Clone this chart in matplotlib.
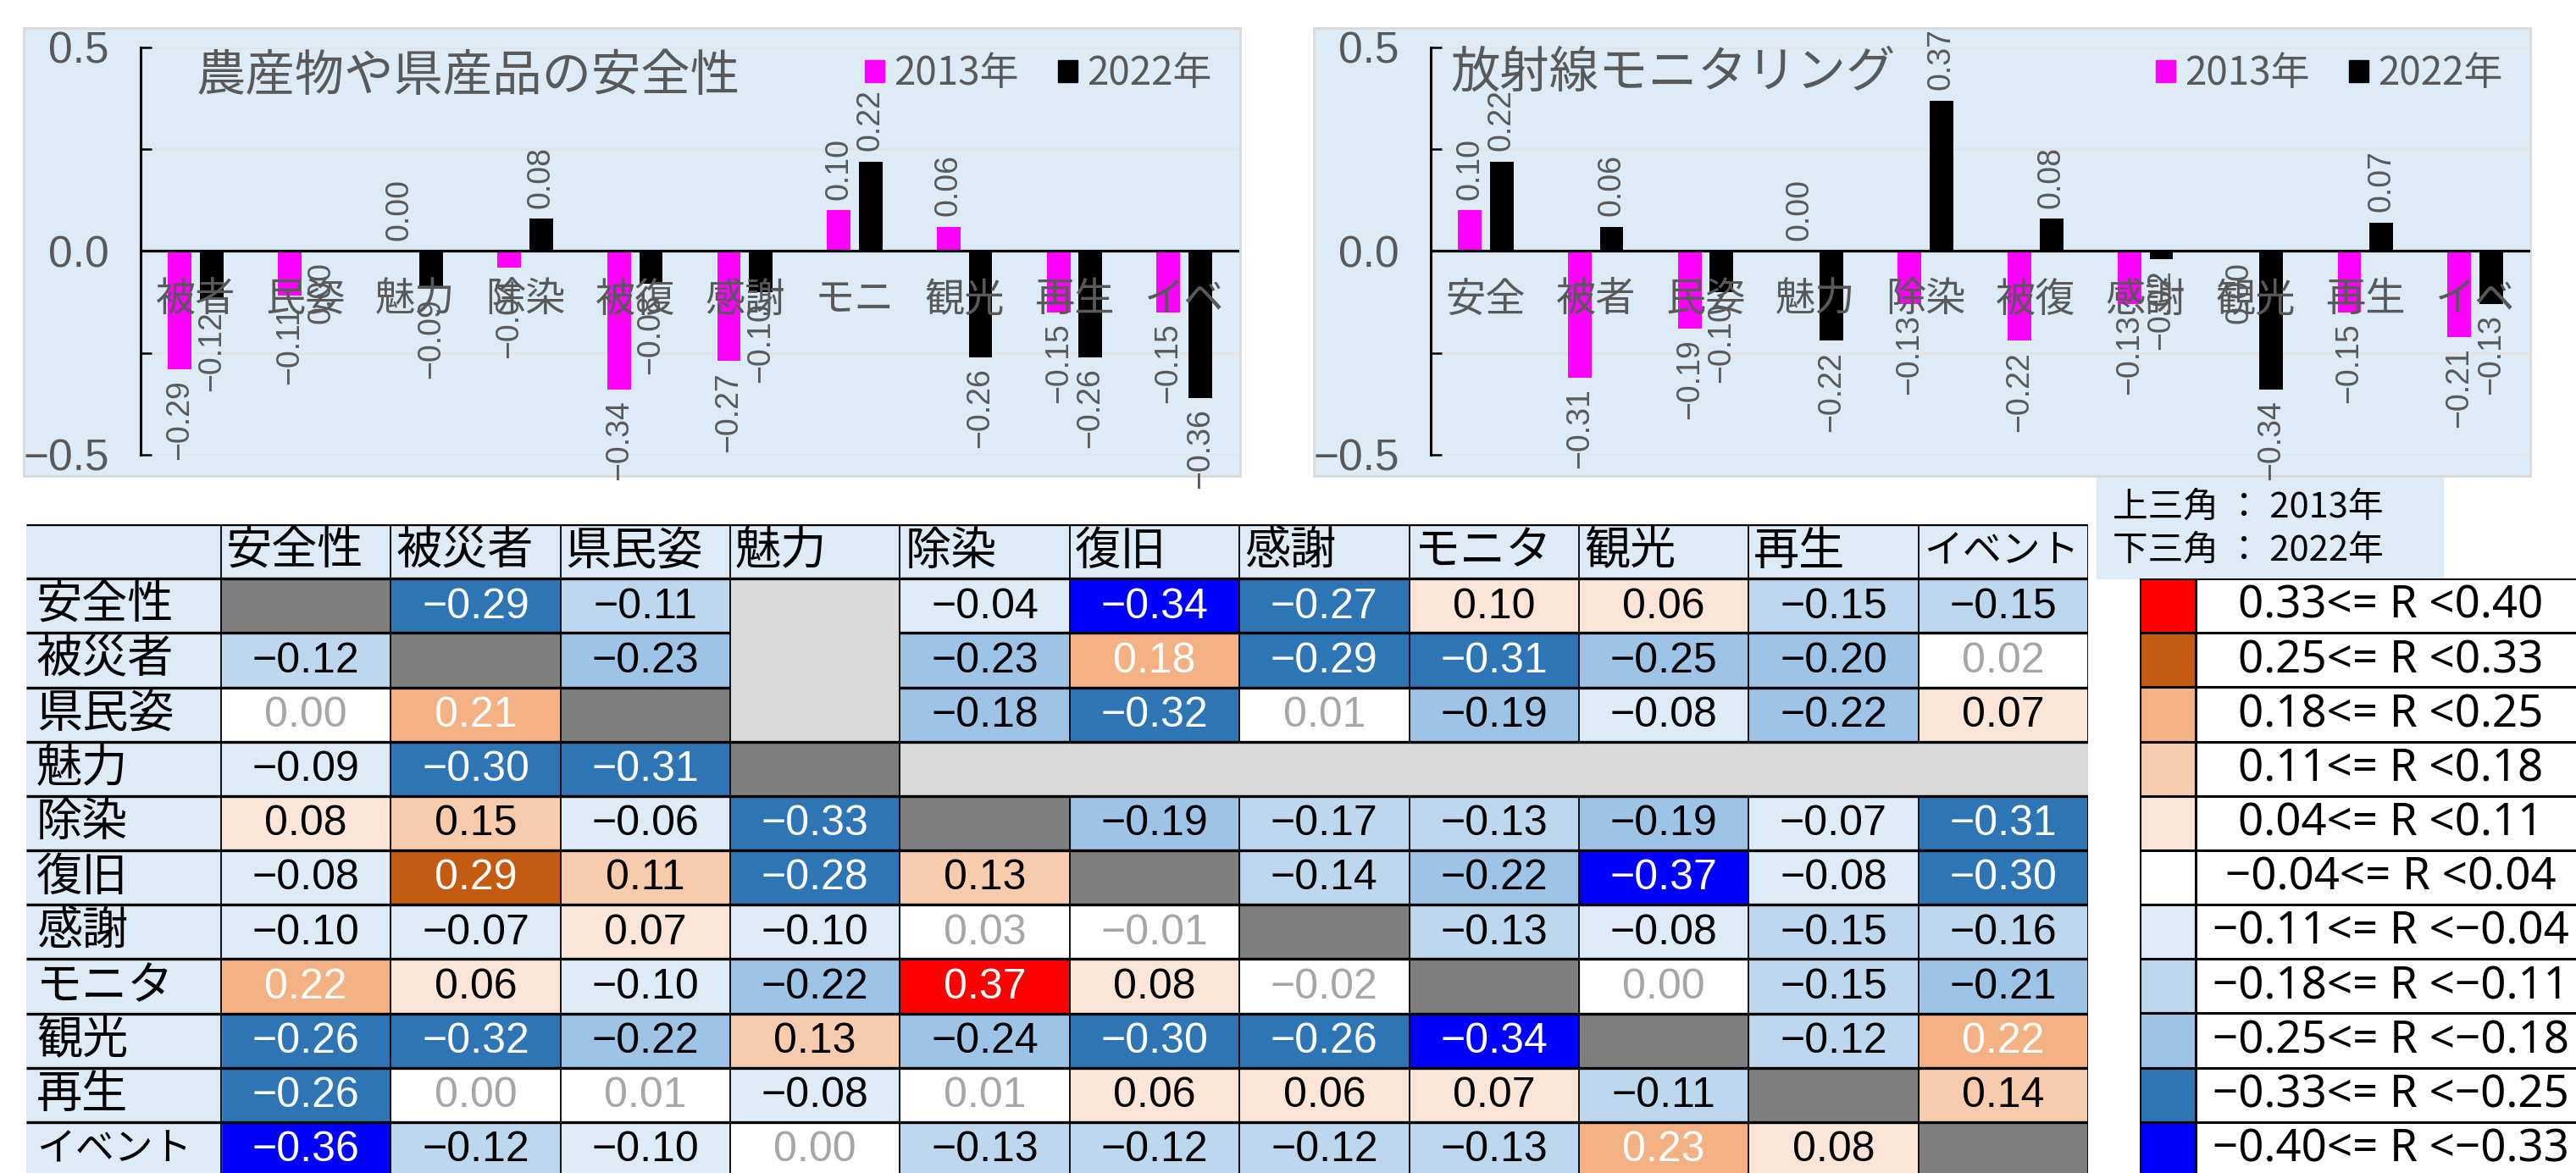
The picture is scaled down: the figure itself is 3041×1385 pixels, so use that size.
import numpy as np
import matplotlib
matplotlib.use('Agg')
import matplotlib.pyplot as plt
from matplotlib.patches import Rectangle, Patch
from matplotlib.colors import ListedColormap, BoundaryNorm
from matplotlib.ticker import FuncFormatter
from matplotlib.collections import LineCollection

W, H, DPI = 3041, 1385, 100
plt.rcParams['font.family'] = ['Noto Sans CJK JP', 'DejaVu Sans']
NUM_FONT = ['Liberation Sans', 'DejaVu Sans']
LEG_FONT = ['Noto Sans', 'DejaVu Sans']
GRAY_TXT = '#595959'
PANEL_BG = '#DDEBF7'

# ---------------- data ----------------
years = ['2013年', '2022年']
year_colors = ['#FF00FF', '#000000']

farm_title = '農産物や県産品の安全性'
farm_cats = ['被者', '民姿', '魅力', '除染', '被復', '感謝', 'モニ', '観光', '再生', 'イベ']
farm_2013 = [-0.29, -0.11, 0.00, -0.04, -0.34, -0.27, 0.10, 0.06, -0.15, -0.15]
farm_2022 = [-0.12, -0.00, -0.09, 0.08, -0.08, -0.10, 0.22, -0.26, -0.26, -0.36]

mon_title = '放射線モニタリング'
mon_cats = ['安全', '被者', '民姿', '魅力', '除染', '被復', '感謝', '観光', '再生', 'イベ']
mon_2013 = [0.10, -0.31, -0.19, 0.00, -0.13, -0.22, -0.13, -0.00, -0.15, -0.21]
mon_2022 = [0.22, 0.06, -0.10, -0.22, 0.37, 0.08, -0.02, -0.34, 0.07, -0.13]

yticks = [-0.5, -0.25, 0.0, 0.25, 0.5]

items = ['安全性', '被災者', '県民姿', '魅力', '除染', '復旧', '感謝', 'モニタ', '観光', '再生', 'イベント']
# upper triangle = 2013 (row i, columns i+1 ..)
upper_2013 = [
    [-0.29, -0.111, None, -0.041, -0.34, -0.27, 0.10, 0.06, -0.15, -0.15],
    [-0.23, None, -0.23, 0.18, -0.29, -0.31, -0.25, -0.20, 0.02],
    [None, -0.181, -0.32, 0.01, -0.19, -0.08, -0.22, 0.07],
    [None, None, None, None, None, None, None],
    [-0.19, -0.17, -0.13, -0.19, -0.07, -0.31],
    [-0.14, -0.22, -0.37, -0.08, -0.30],
    [-0.13, -0.08, -0.15, -0.16],
    [0.00, -0.15, -0.21],
    [-0.12, 0.22],
    [0.14],
]
# lower triangle = 2022 (row i+1, columns 0 .. i)
lower_2022 = [
    [-0.12],
    [0.00, 0.21],
    [-0.09, -0.30, -0.31],
    [0.08, 0.15, -0.06, -0.33],
    [-0.08, 0.29, 0.11, -0.28, 0.13],
    [-0.10, -0.07, 0.07, -0.10, 0.03, -0.01],
    [0.22, 0.06, -0.10, -0.22, 0.37, 0.08, -0.02],
    [-0.26, -0.32, -0.22, 0.13, -0.24, -0.30, -0.26, -0.34],
    [-0.26, 0.00, 0.01, -0.08, 0.01, 0.06, 0.06, 0.07, -0.111],
    [-0.36, -0.12, -0.10, 0.00, -0.13, -0.12, -0.12, -0.13, 0.23, 0.08],
]
bin_edges = [-0.40, -0.33, -0.25, -0.18, -0.11, -0.04, 0.04, 0.11, 0.18, 0.25, 0.33, 0.40]
bin_colors = ['#0000FF', '#2E75B6', '#9DC3E6', '#BDD7EE', '#DDEBF7', '#FFFFFF',
              '#FBE5D6', '#F8CBAD', '#F4B183', '#C55A11', '#FF0000']
bin_text_colors = ['white', 'white', 'black', 'black', 'black', '#A6A6A6',
                   'black', 'black', 'white', 'white', 'white']
note_lines = ['上三角 ： 2013年', '下三角 ： 2022年']


def px_rect(x0, y0, x1, y1):
    return [x0 / W, 1 - y1 / H, (x1 - x0) / W, (y1 - y0) / H]


def fmt(v):
    s = f'{abs(v):.2f}'
    return ('−' + s) if v < 0 and s != '0.00' else s


fig = plt.figure(figsize=(W / DPI, H / DPI), dpi=DPI)


def bar_panel(panel_px, axes_px, title, title_xy, cats, v13, v22):
    bg = fig.add_axes(px_rect(*panel_px))
    bg.set_facecolor(PANEL_BG)
    bg.set_xticks([]); bg.set_yticks([])
    for s in bg.spines.values():
        s.set_color('#D9D9D9'); s.set_linewidth(2)

    ax = fig.add_axes(px_rect(*axes_px))
    ax.set_facecolor('none')
    x = np.arange(len(cats))
    w, off = 0.215, 0.145
    for vals, dx, col in ((v13, -off, year_colors[0]), (v22, off, year_colors[1])):
        ax.bar(x + dx, vals, w, color=col, zorder=2)
        for xi, v in zip(x + dx, vals):
            neg = np.signbit(v)
            ax.annotate(fmt(v), (xi, v), xytext=(0, -9 if neg else 9),
                        textcoords='offset points', rotation=90, ha='center',
                        va='top' if neg else 'bottom', fontsize=27,
                        color=GRAY_TXT, family=NUM_FONT, zorder=5)
    for xi, c in zip(x, cats):
        ax.text(xi, -0.12, c, ha='center', va='center', fontsize=34,
                color=GRAY_TXT, zorder=6)
    ax.axhline(0, color='black', lw=2.3, zorder=3)
    ax.set_xlim(-0.5, len(cats) - 0.5)
    ax.set_ylim(-0.5, 0.5)
    ax.set_xticks([])
    ax.set_yticks(yticks)
    ax.yaxis.set_major_formatter(FuncFormatter(
        lambda v, p: f'{v:.1f}'.replace('-', '−') if abs(v * 2 - round(v * 2)) < 1e-9 else ''))
    ax.tick_params(axis='y', direction='in', length=9, width=1.8, pad=27,
                   labelsize=37, labelcolor=GRAY_TXT, labelfontfamily='Liberation Sans')
    for side in ('top', 'right', 'bottom'):
        ax.spines[side].set_visible(False)
    ax.spines['left'].set_linewidth(2.2)
    ax.grid(axis='y', color='#E3E3E3', lw=1.8)
    ax.set_axisbelow(True)
    handles = [Patch(color=c) for c in year_colors]
    ax.legend(handles, years, ncol=2, loc='center right', bbox_to_anchor=(0.975, 0.9356),
              frameon=False, fontsize=33, handlelength=0.5, handleheight=0.5,
              handletextpad=0.25, columnspacing=1.0, borderpad=0, borderaxespad=0,
              labelcolor=GRAY_TXT)
    fig.text(title_xy[0] / W, 1 - title_xy[1] / H, title, ha='left', va='center',
             fontsize=42, color=GRAY_TXT)


bar_panel((28, 33, 1464, 562), (166, 56, 1463, 537), farm_title, (232, 91),
          farm_cats, farm_2013, farm_2022)
bar_panel((1551, 33, 2987, 562), (1689, 56, 2987, 537), mon_title, (1713, 86),
          mon_cats, mon_2013, mon_2022)

# ---------------- correlation table ----------------
n = len(items)
M = np.full((n, n), np.nan)
missing = np.zeros((n, n), bool)
for i, row in enumerate(upper_2013):
    for k, v in enumerate(row):
        if v is None:
            missing[i, i + 1 + k] = True
        else:
            M[i, i + 1 + k] = v
for i, row in enumerate(lower_2022):
    for k, v in enumerate(row):
        M[i + 1, k] = v

lab_w = 230 / 200.4
axT = fig.add_axes(px_rect(31, 619, 2465, 1389))
axT.set_xlim(-lab_w, n)
axT.set_ylim(n, -1)
axT.axis('off')

cmap = ListedColormap(bin_colors)
norm = BoundaryNorm(bin_edges, cmap.N)
axT.pcolormesh(np.arange(n + 1), np.arange(n + 1), np.ma.masked_invalid(M),
               cmap=cmap, norm=norm, zorder=1)
axT.add_patch(Rectangle((-lab_w, -1), lab_w + n, 1, color=PANEL_BG, zorder=1))
axT.add_patch(Rectangle((-lab_w, 0), lab_w, n, color=PANEL_BG, zorder=1))
for i in range(n):
    axT.add_patch(Rectangle((i, i), 1, 1, color='#7F7F7F', zorder=1))
    for j in range(n):
        if missing[i, j]:
            axT.add_patch(Rectangle((j, i), 1, 1, color='#D9D9D9', zorder=1))


def is_missing(r, c):
    if r < 0 or c < 0:
        return False
    if r >= n or c >= n:
        return True
    return missing[r, c]


hsegs, vsegs = [], []
hsegs.append([(-lab_w, -1), (n, -1)])
for k in range(0, n + 1):
    for c in range(-1, n):
        if not (is_missing(k - 1, c) and is_missing(k, c)):
            x0 = -lab_w if c < 0 else c
            hsegs.append([(x0, k), (c + 1, k)])
for c in range(0, n + 1):
    for r in range(-1, n):
        if not (is_missing(r, c - 1) and is_missing(r, c)):
            vsegs.append([(c, r), (c, r + 1)])
axT.add_collection(LineCollection(hsegs, colors='black', linewidths=2.4, zorder=3,
                                  capstyle='butt'))
axT.add_collection(LineCollection(vsegs, colors='black', linewidths=1.3, zorder=3))


def label_size(name):
    return 39 if len(name) <= 3 else 33


for j, name in enumerate(items):
    axT.text(j + 6 / 200.4, -0.5, name, ha='left', va='center', fontsize=label_size(name),
             color='black', zorder=4)
for i, name in enumerate(items):
    axT.text(-lab_w + 12 / 200.4, i + 0.5, name, ha='left', va='center',
             fontsize=label_size(name), color='black', zorder=4)
for i in range(n):
    for j in range(n):
        v = M[i, j]
        if np.isnan(v):
            continue
        b = int(np.digitize(v, bin_edges) - 1)
        axT.text(j + 0.5, i + 0.52, fmt(v), ha='center', va='center', fontsize=36,
                 family=NUM_FONT, color=bin_text_colors[b], zorder=4)

# ---------------- note box ----------------
fig.add_artist(Rectangle((2475 / W, 1 - 683 / H), (2884 - 2475) / W, (683 - 564) / H,
                         transform=fig.transFigure, color=PANEL_BG, zorder=0))
for k, line in enumerate(note_lines):
    fig.text(2494 / W, 1 - (599 + 51 * k) / H, line, ha='left', va='center',
             fontsize=30, color='black')

# ---------------- color legend ----------------
axL = fig.add_axes(px_rect(2526, 683, 3100, 1389))
axL.set_xlim(0, 574)
axL.set_ylim(n, 0)
axL.axis('off')
nb = len(bin_colors)
for k in range(nb):
    b = nb - 1 - k
    axL.add_patch(Rectangle((0, k), 66, 1, color=bin_colors[b], zorder=1))
    lab = f'{fmt(bin_edges[b])}<= R <{fmt(bin_edges[b + 1])}'
    axL.text(296, k + 0.52, lab, ha='center', va='center', fontsize=38,
             family=LEG_FONT, color='black', zorder=4)
axL.add_collection(LineCollection([[(0, k), (574, k)] for k in range(nb + 1)],
                                  colors='black', linewidths=2.2, zorder=3))
axL.add_collection(LineCollection([[(0, 0), (0, nb)], [(66, 0), (66, nb)]],
                                  colors='black', linewidths=2.2, zorder=3))

fig.savefig('out.png', dpi=DPI)
